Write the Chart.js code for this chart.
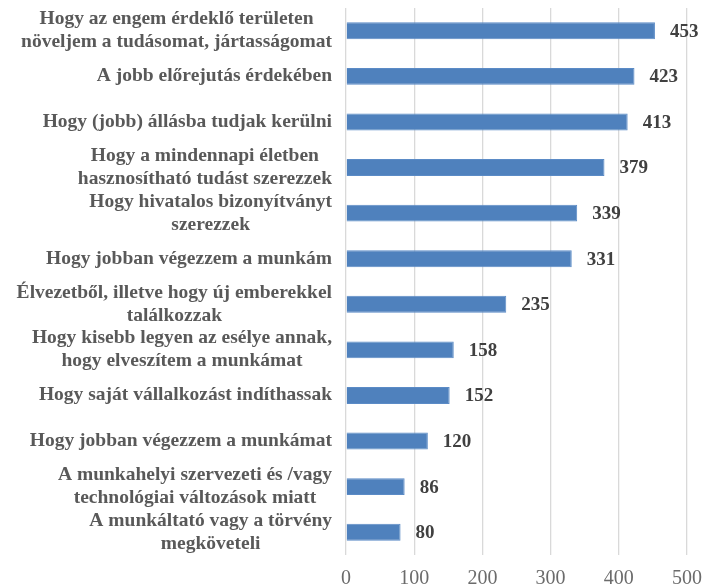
<!DOCTYPE html>
<html>
<head>
<meta charset="utf-8">
<script src="https://cdn.jsdelivr.net/npm/chart.js@4"></script>
<style>
  body { margin: 0; background: #fff; }
  #wrap { width: 703px; height: 588px; }
</style>
</head>
<body>
<div id="wrap"><canvas id="chart"></canvas></div>
<script>
const categories = [
    ['Hogy az engem érdeklő területen', 'növeljem a tudásomat, jártasságomat'],
    ['A jobb előrejutás érdekében'],
    ['Hogy (jobb) állásba tudjak kerülni'],
    ['Hogy a mindennapi életben', 'hasznosítható tudást szerezzek'],
    ['Hogy hivatalos bizonyítványt', 'szerezzek'],
    ['Hogy jobban végezzem a munkám'],
    ['Élvezetből, illetve hogy új emberekkel', 'találkozzak'],
    ['Hogy kisebb legyen az esélye annak,', 'hogy elveszítem a munkámat'],
    ['Hogy saját vállalkozást indíthassak'],
    ['Hogy jobban végezzem a munkámat'],
    ['A munkahelyi szervezeti és /vagy', 'technológiai változások miatt'],
    ['A munkáltató vagy a törvény', 'megköveteli']
];
const values = [453, 423, 413, 379, 339, 331, 235, 158, 152, 120, 86, 80];
const xTicks = [0, 100, 200, 300, 400, 500];

const FONT = '"Liberation Serif", "DejaVu Serif", serif';

// category labels: each line centred, block right-aligned next to the axis
const categoryLabels = {
    id: 'categoryLabels',
    afterDraw(chart) {
        const ctx = chart.ctx;
        const y = chart.scales.y;
        const right = chart.chartArea.left - 14;
        const lineH = 23;
        ctx.save();
        ctx.font = 'bold 19.5px ' + FONT;
        ctx.fillStyle = '#595959';
        ctx.textAlign = 'center';
        ctx.textBaseline = 'middle';
        categories.forEach((lines, i) => {
            const cy = y.getPixelForValue(i);
            const maxW = Math.max(...lines.map(l => ctx.measureText(l).width));
            const cx = right - maxW / 2;
            const top = cy - (lines.length - 1) * lineH / 2;
            lines.forEach((l, j) => ctx.fillText(l, cx, top + j * lineH));
        });
        ctx.restore();
    }
};

// value labels at the end of each bar
const valueLabels = {
    id: 'valueLabels',
    afterDatasetsDraw(chart) {
        const ctx = chart.ctx;
        const meta = chart.getDatasetMeta(0);
        ctx.save();
        ctx.font = 'bold 19px ' + FONT;
        ctx.fillStyle = '#404040';
        ctx.textAlign = 'left';
        ctx.textBaseline = 'middle';
        meta.data.forEach((bar, i) => {
            ctx.fillText(values[i], bar.x + 15, bar.y + 1);
        });
        ctx.restore();
    }
};

new Chart(document.getElementById('chart'), {
    type: 'bar',
    data: {
        labels: categories.map(c => c.join(' ')),
        datasets: [{
            data: values,
            backgroundColor: '#4F81BD',
            borderColor: '#5B8BC6',
            borderWidth: 1,
            categoryPercentage: 1,
            barPercentage: 0.37
        }]
    },
    options: {
        indexAxis: 'y',
        responsive: true,
        maintainAspectRatio: false,
        animation: false,
        layout: { padding: { top: 8, right: 0, left: 0, bottom: 0 } },
        plugins: {
            legend: { display: false },
            tooltip: { enabled: false }
        },
        scales: {
            x: {
                min: 0,
                max: 500,
                afterBuildTicks: scale => { scale.ticks = xTicks.map(v => ({ value: v })); },
                grid: { color: '#D9D9D9', lineWidth: 1.3, drawTicks: false },
                border: { display: false },
                ticks: {
                    color: '#6B6B6B',
                    font: { family: FONT, size: 20 },
                    padding: 12
                },
                afterFit: scale => {
                    scale.height = 33;
                    scale.paddingRight = 16;
                }
            },
            y: {
                grid: { display: false },
                border: { display: false },
                ticks: { display: false },
                afterFit: scale => { scale.width = 346; }
            }
        }
    },
    plugins: [categoryLabels, valueLabels]
});
</script>
</body>
</html>
